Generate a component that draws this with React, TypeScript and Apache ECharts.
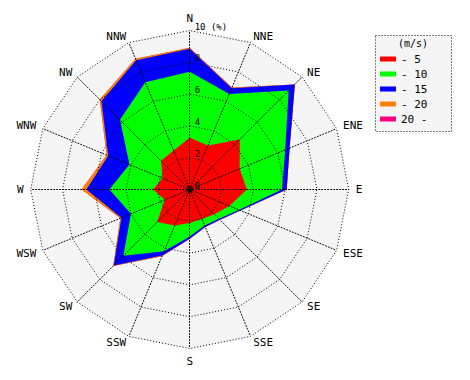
import React, { useEffect, useRef } from 'react';
import * as echarts from 'echarts';

const directions = ['N', 'NNE', 'NE', 'ENE', 'E', 'ESE', 'SE', 'SSE', 'S', 'SSW', 'SW', 'WSW', 'W', 'WNW', 'NW', 'NNW'];
const tickLabels = ['0', '2', '4', '6', '8', '10 (%)'];
const speedClasses = ['- 5', '- 10', '- 15', '- 20', '20 -'];
const classColors = ['#ff0000', '#00ff00', '#0000ff', '#ff8000', '#ff0080'];

// cumulative frequency (%) by direction, N clockwise
const upTo5 = [3.25, 3.0, 4.45, 3.4, 3.6, 2.7, 2.2, 2.0, 2.1, 2.45, 2.9, 1.7, 2.3, 1.85, 2.55, 2.65];
const upTo10 = [7.4, 6.5, 8.8, 6.5, 5.8, 3.35, 2.6, 2.45, 2.95, 4.2, 5.9, 4.0, 5.05, 4.1, 6.2, 7.3];
const upTo15 = [8.85, 6.9, 9.35, 6.8, 6.1, 3.45, 2.7, 2.55, 3.1, 4.5, 6.75, 4.65, 6.5, 5.55, 7.85, 8.8];
const upTo20 = [8.92, 6.95, 9.35, 6.8, 6.1, 3.45, 2.7, 2.55, 3.1, 4.55, 6.8, 4.72, 6.8, 5.65, 8.0, 8.9];
const allSpeeds = [8.92, 6.95, 9.35, 6.8, 6.1, 3.45, 2.7, 2.55, 3.1, 4.55, 6.8, 4.72, 6.8, 5.65, 8.0, 8.9];

const cumulative = [upTo5, upTo10, upTo15, upTo20, allSpeeds];

const FONT = 'DejaVu Sans Mono';
const CX = 189.7;
const CY = 189.5;
const R = 159;

// ECharts places radar indicators counter-clockwise; reorder so they run clockwise
const order = directions.map((_, i) => (16 - i) % 16);

export default function App() {
  const ref = useRef<HTMLDivElement>(null);
  useEffect(() => {
    if (!ref.current) return;
    const chart = echarts.init(ref.current, undefined, { renderer: 'svg' });
    const dotted = { color: '#000', width: 1, type: [1, 2] as number[] };
    const baseIndicators = order.map((i) => ({ name: directions[i], min: 0, max: 10 }));
    const topIndicators = order.map((i, k) => ({
      name: directions[i],
      min: 0,
      max: 10,
      ...(k === 0
        ? {
            axisLabel: {
              show: true,
              color: '#000',
              fontFamily: FONT,
              fontSize: 9,
              lineHeight: 8,
              margin: -5,
              align: 'left',
              verticalAlign: 'bottom',
              formatter: (v: number) => tickLabels[Math.round(v / 2)] ?? '',
            },
          }
        : {}),
    }));
    const series = [4, 3, 2, 1, 0].map((c) => ({
      type: 'radar',
      radarIndex: 0,
      name: speedClasses[c],
      symbol: 'none',
      z: 2 + (4 - c) * 0.01,
      itemStyle: { color: classColors[c] },
      lineStyle: { width: 0, color: classColors[c] },
      areaStyle: { color: classColors[c], opacity: 1 },
      data: [{ name: speedClasses[c], value: order.map((i) => cumulative[c][i]) }],
    }));
    chart.setOption({
      animation: false,
      legend: {
        data: speedClasses,
        orient: 'vertical',
        left: 380,
        top: 53,
        icon: 'rect',
        itemWidth: 16,
        itemHeight: 5,
        itemGap: 3,
        padding: 0,
        textStyle: { fontFamily: FONT, fontSize: 11, color: '#000', lineHeight: 12 },
        z: 20,
      },
      graphic: [
        {
          type: 'rect',
          shape: { x: 375.5, y: 35.5, width: 76, height: 96 },
          style: { fill: '#f5f5f5', stroke: '#000', lineWidth: 1, lineDash: [1, 2] },
          z: 1,
        },
        {
          type: 'text',
          x: 413,
          y: 43,
          style: { text: '(m/s)', fontFamily: FONT, fontSize: 10, fill: '#000', align: 'center', verticalAlign: 'middle' },
          z: 2,
        },
        {
          type: 'circle',
          shape: { cx: CX, cy: CY, r: 2.5 },
          style: { fill: '#000' },
          z: 30,
        },
      ],
      radar: [
        {
          center: [CX, CY],
          radius: R,
          startAngle: 90,
          shape: 'polygon',
          splitNumber: 5,
          indicator: baseIndicators,
          nameGap: 7,
          axisName: { color: '#000', fontFamily: FONT, fontSize: 11 },
          splitArea: { show: true, areaStyle: { color: ['#f5f5f5'] } },
          splitLine: { show: false },
          axisLine: { show: false },
          axisTick: { show: false },
          axisLabel: { show: false },
          z: 0,
        },
        {
          center: [CX, CY],
          radius: R,
          startAngle: 90,
          shape: 'polygon',
          splitNumber: 5,
          indicator: topIndicators,
          axisName: { show: false },
          splitArea: { show: false },
          splitLine: { show: true, lineStyle: dotted },
          axisLine: { show: true, lineStyle: dotted },
          axisTick: { show: false },
          axisLabel: { show: false },
          z: 10,
        },
      ],
      series,
    });
    return () => chart.dispose();
  }, []);
  return <div ref={ref} style={{ position: 'absolute', left: 0, top: 0, width: 470, height: 380 }} />;
}
